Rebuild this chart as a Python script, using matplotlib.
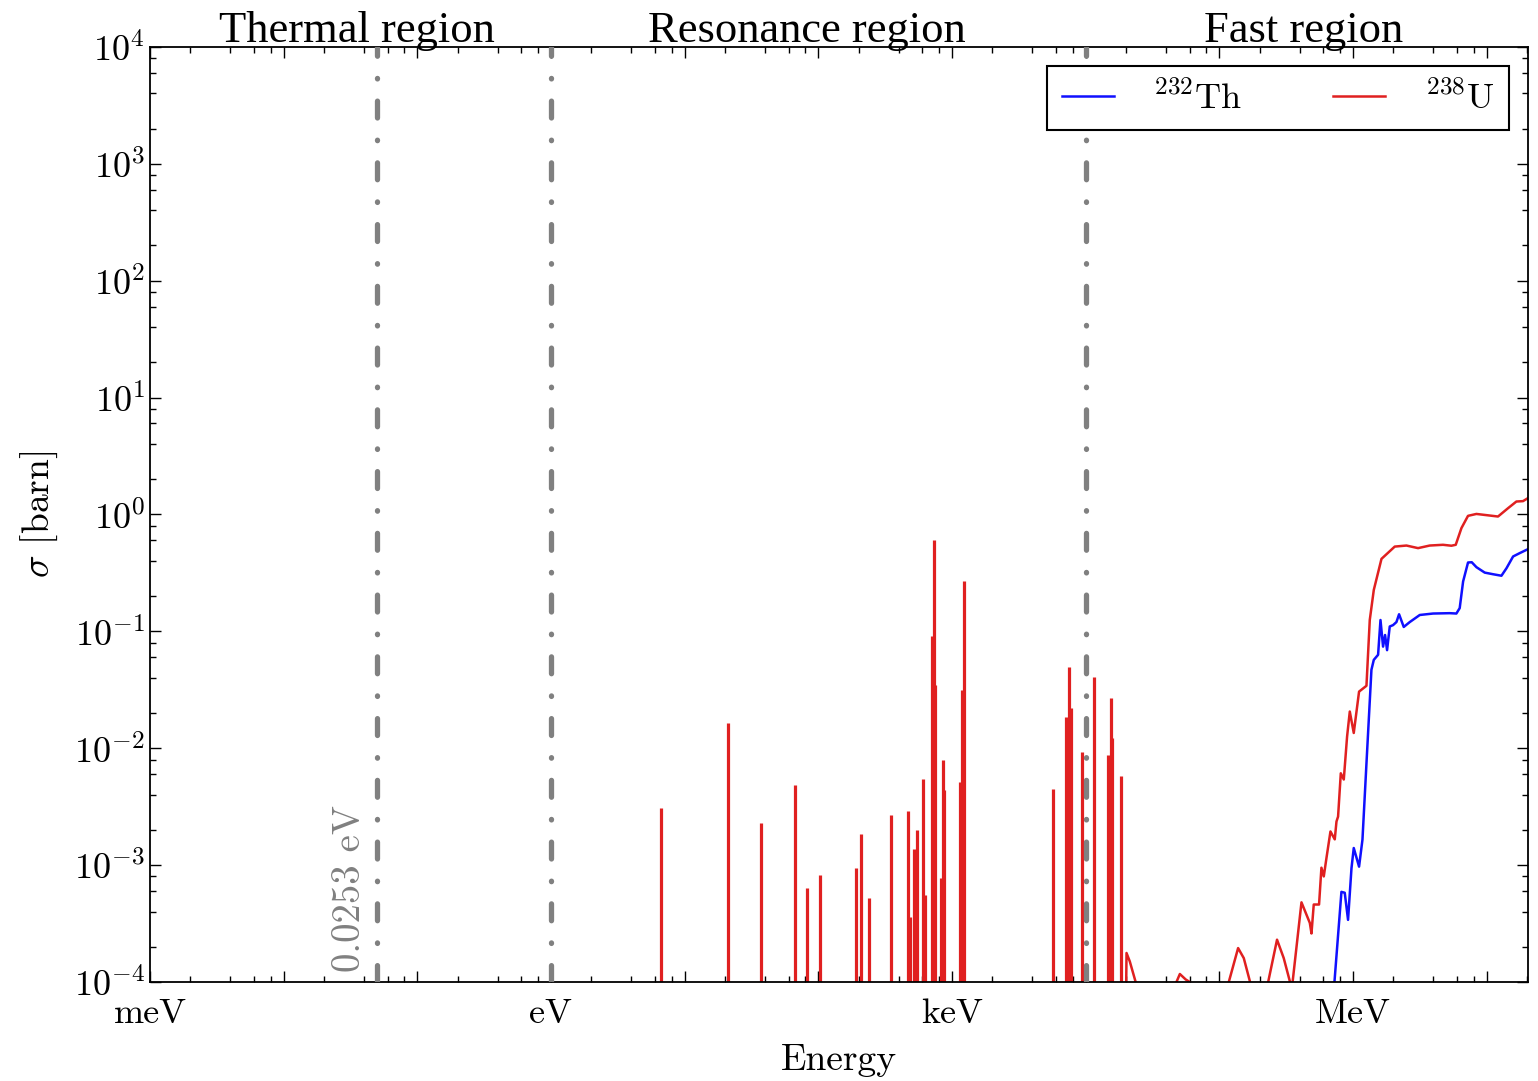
import matplotlib
matplotlib.use("Agg")
import matplotlib.pyplot as plt
from matplotlib.ticker import FixedLocator, FixedFormatter, LogLocator, NullFormatter, LogFormatterSciNotation

# ---------------------------
# Data
# ---------------------------
# 238U resonance spikes: energy [eV], peak cross section [barn]
spike_E = [6.7, 21, 37, 67, 82, 103, 191, 210, 239, 351, 470, 487, 521, 543,
           603, 627, 711, 728, 745, 826, 860, 873, 1146, 1180, 1228,
           5714, 7110, 7530, 7840, 9410, 11580, 14590, 15360, 15700, 18330]
spike_sigma = [3.1e-3, 1.63e-2, 2.3e-3, 4.8e-3, 6.4e-4, 8.2e-4, 9.5e-4, 1.84e-3,
               5.2e-4, 2.7e-3, 2.9e-3, 3.6e-4, 1.37e-3, 1.98e-3, 5.4e-3, 5.6e-4,
               9.2e-2, 0.60, 3.5e-2, 7.7e-4, 7.9e-3, 4.4e-3, 5.1e-3, 3.16e-2, 0.267,
               4.5e-3, 1.85e-2, 5.0e-2, 2.2e-2, 9.2e-3, 4.1e-2, 8.8e-3, 2.7e-2,
               1.22e-2, 5.8e-3]

# 238U fast region
u238_E = [2.0e4, 2.023e4, 2.14e4, 2.43e4,
          4.6e4, 4.784e4, 5.07e4, 5.61e4, 6.01e4, 6.3e4,
          1.15e5, 1.178e5, 1.383e5, 1.525e5, 1.741e5,
          2.277e5, 2.704e5, 3.035e5, 3.465e5, 3.5e5,
          4.12e5, 4.757e5, 4.895e5, 5.09e5, 5.577e5, 5.81e5, 6.05e5, 6.336e5,
          6.788e5, 7.31e5, 7.53e5, 7.74e5, 8.11e5, 8.54e5, 9.04e5, 9.47e5,
          1.014e6, 1.111e6, 1.262e6, 1.336e6, 1.432e6, 1.635e6, 2.055e6,
          2.513e6, 3.069e6, 3.752e6, 4.718e6, 5.454e6, 5.874e6, 6.48e6,
          7.26e6, 8.39e6, 1.217e7, 1.445e7, 1.67e7, 1.872e7, 2.04e7]
u238_sigma = [5e-5, 1.77e-4, 1.5e-4, 9e-5,
              9e-5, 1.0e-4, 1.17e-4, 1.05e-4, 1.0e-4, 9e-5,
              9e-5, 1.0e-4, 1.95e-4, 1.6e-4, 9e-5,
              9e-5, 2.3e-4, 1.6e-4, 9e-5, 9e-5,
              4.8e-4, 3.2e-4, 2.6e-4, 4.6e-4, 4.6e-4, 9.5e-4, 8.0e-4, 1.15e-3,
              1.94e-3, 1.66e-3, 2.36e-3, 2.6e-3, 6.1e-3, 5.4e-3, 1.26e-2, 2.06e-2,
              1.35e-2, 3.05e-2, 3.42e-2, 0.125, 0.226, 0.417, 0.531,
              0.542, 0.515, 0.542, 0.55, 0.54, 0.55, 0.764,
              0.973, 1.01, 0.96, 1.13, 1.29, 1.30, 1.38]

# 232Th fast region
th232_E = [7.22e5, 8.2e5, 8.68e5, 9.19e5, 9.75e5, 1.014e6, 1.111e6, 1.178e6,
           1.262e6, 1.375e6, 1.432e6, 1.542e6, 1.607e6, 1.68e6, 1.739e6,
           1.8e6, 1.885e6, 1.995e6, 2.115e6, 2.213e6, 2.399e6, 2.66e6,
           3.162e6, 3.975e6, 5.295e6, 5.94e6, 6.29e6, 6.67e6, 7.26e6, 7.74e6,
           8.39e6, 9.68e6, 1.117e7, 1.291e7, 1.409e7, 1.578e7, 1.77e7, 2.04e7]
th232_sigma = [9e-5, 5.9e-4, 5.8e-4, 3.4e-4, 9.4e-4, 1.40e-3, 9.7e-4, 1.65e-3,
               7.4e-3, 4.69e-2, 5.7e-2, 6.3e-2, 0.125, 7.4e-2, 9.3e-2,
               6.9e-2, 0.11, 0.113, 0.12, 0.140, 0.109, 0.12,
               0.138, 0.142, 0.143, 0.142, 0.158, 0.267, 0.388, 0.39,
               0.354, 0.318, 0.308, 0.299, 0.347, 0.437, 0.467, 0.505]

# region boundaries [eV]
boundaries = [0.05, 1.0, 1.0e4]
region_names = ["Thermal region", "Resonance region", "Fast region"]
region_pos = [0.150, 0.477, 0.837]   # axes fraction

xtick_vals = [1e-3, 1e-2, 1e-1, 1e0, 1e1, 1e2, 1e3, 1e4, 1e5, 1e6, 1e7]
xtick_labels = ["meV", "", "", "eV", "", "", "keV", "", "", "MeV", ""]
ytick_vals = [1e-4, 1e-3, 1e-2, 1e-1, 1e0, 1e1, 1e2, 1e3, 1e4]

# ---------------------------
# Style
# ---------------------------
plt.rcParams["font.family"] = "serif"
plt.rcParams["font.serif"] = ["cmr10"]
plt.rcParams["mathtext.fontset"] = "cm"
plt.rcParams["axes.formatter.use_mathtext"] = True
plt.rcParams["axes.unicode_minus"] = False

fig = plt.figure(figsize=(15.38, 10.81), dpi=100)
ax = fig.add_axes([0.0975, 0.0916, 0.896, 0.865])

# ---------------------------
# Plot
# ---------------------------
ax.plot(th232_E, th232_sigma, color="#1010ff", lw=1.8, label=r"$^{232}$Th")
ax.plot(u238_E, u238_sigma, color="#e02020", lw=1.8, label=r"$^{238}$U")
ax.vlines(spike_E, 1e-5, spike_sigma, colors="#e02020", lw=2.3)

for b in boundaries:
    ax.axvline(b, color="gray", lw=3.8, linestyle=(0, (3.2, 4.2, 0.1, 4.2)),
               dash_capstyle="round", zorder=3)

ax.text(0.145, 0.011, "0.0253 eV", transform=ax.transAxes, rotation=90,
        ha="center", va="bottom", fontsize=28, color="gray")

for name, pos in zip(region_names, region_pos):
    ax.text(pos, 1.005, name, transform=ax.transAxes, ha="center",
            va="baseline", fontsize=32, family="Liberation Serif")

ax.set_xscale("log")
ax.set_yscale("log")
ax.set_xlim(1e-3, 2.04e7)
ax.set_ylim(1e-4, 1e4)

ax.xaxis.set_major_locator(FixedLocator(xtick_vals))
ax.xaxis.set_major_formatter(FixedFormatter(xtick_labels))
ax.xaxis.set_minor_locator(LogLocator(base=10, subs=(2, 4, 6, 8), numticks=30))
ax.xaxis.set_minor_formatter(NullFormatter())
ax.yaxis.set_major_locator(FixedLocator(ytick_vals))
ax.yaxis.set_major_formatter(LogFormatterSciNotation())
ax.yaxis.set_minor_locator(LogLocator(base=10, subs=(2, 4, 6, 8), numticks=30))
ax.yaxis.set_minor_formatter(NullFormatter())

ax.tick_params(which="both", direction="in", top=True, right=True,
               labelsize=26, width=1)
ax.tick_params(which="major", length=8)
ax.tick_params(which="minor", length=4)
ax.tick_params(axis="x", pad=12)
for s in ax.spines.values():
    s.set_linewidth(1.3)

ax.set_xlabel("Energy", fontsize=27, labelpad=10)
ax.set_ylabel(r"$\sigma$ [barn]", fontsize=27, labelpad=10)

leg = ax.legend(loc="upper right", ncol=2, fontsize=26, handlelength=1.44,
                handletextpad=1.1, columnspacing=2.5, borderaxespad=0.53,
                fancybox=False, framealpha=1, edgecolor="black")
leg.get_frame().set_linewidth(1.5)
leg.set_zorder(5)

fig.savefig("out.png", dpi=100)
